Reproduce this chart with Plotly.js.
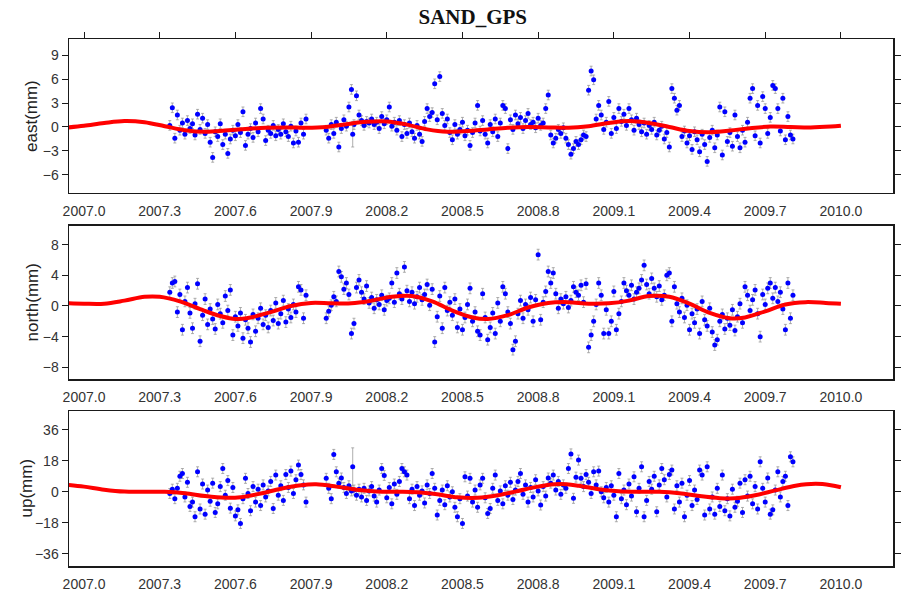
<!DOCTYPE html>
<html><head><meta charset="utf-8">
<script src="https://cdn.plot.ly/plotly-3.0.1.min.js"></script>
<style>html,body{margin:0;padding:0;background:#fff}#chart{width:919px;height:596px}</style>
</head><body><div id="chart"></div>
<script>
// ---- epochs (decimal year) ----
const datesA = [2007.34,2007.35,2007.36,2007.37,2007.38,2007.39,2007.40,2007.41,2007.42,2007.43,
 2007.44,2007.45,2007.46,2007.47,2007.48,2007.49,2007.50,2007.51,2007.52,2007.53,
 2007.54,2007.55,2007.56,2007.57,2007.58,2007.59,2007.60,2007.61,2007.62,2007.63,
 2007.64,2007.65,2007.66,2007.67,2007.68,2007.69,2007.70,2007.71,2007.72,2007.73,
 2007.74,2007.75,2007.76,2007.77,2007.78,2007.79,2007.80,2007.81,2007.82,2007.83,
 2007.84,2007.85,2007.86,2007.87,2007.88];
const datesB = [2007.96,2007.97,2007.98,2007.99,2008.00,2008.01,2008.02,2008.03,2008.04,2008.05,
 2008.06,2008.07,2008.08,2008.09,2008.10,2008.11,2008.12,2008.13,2008.14,2008.15,
 2008.16,2008.17,2008.18,2008.19,2008.20,2008.21,2008.22,2008.23,2008.24,2008.25,
 2008.26,2008.27,2008.28,2008.29,2008.30,2008.31,2008.32,2008.33,2008.34,2008.35,
 2008.36,2008.37,2008.38,2008.39,2008.40,2008.41,2008.42,2008.43,2008.44,2008.45,
 2008.46,2008.47,2008.48,2008.49,2008.50,2008.51,2008.52,2008.53,2008.54,2008.55,
 2008.56,2008.57,2008.58,2008.59,2008.60,2008.61,2008.62,2008.63,2008.64,2008.65,
 2008.66,2008.67,2008.68,2008.69,2008.70,2008.71,2008.72,2008.73,2008.74,2008.75,
 2008.76,2008.77,2008.78,2008.79,2008.80,2008.81,2008.82,2008.83,2008.84,2008.85,
 2008.86,2008.87,2008.88,2008.89,2008.90,2008.91,2008.92,2008.93,2008.94,2008.95,
 2008.96,2008.97,2008.98,2008.99,2009.00,2009.01,2009.02,2009.03,2009.04,2009.05,
 2009.06,2009.07,2009.08,2009.09,2009.10,2009.11,2009.12,2009.13,2009.14,2009.15,
 2009.16,2009.17,2009.18,2009.19,2009.20,2009.21,2009.22,2009.23,2009.24,2009.25,
 2009.26,2009.27,2009.28,2009.29,2009.30,2009.31,2009.32,2009.33,2009.34,2009.35,
 2009.36,2009.37,2009.38,2009.39,2009.40,2009.41,2009.42,2009.43,2009.44,2009.45,
 2009.46,2009.47,2009.48,2009.49,2009.50,2009.51,2009.52,2009.53,2009.54,2009.55,
 2009.56,2009.57,2009.58,2009.59,2009.60,2009.61,2009.62,2009.63,2009.64,2009.65,
 2009.66,2009.67,2009.68,2009.69,2009.70,2009.71,2009.72,2009.73,2009.74,2009.75,
 2009.76,2009.77,2009.78,2009.79,2009.80,2009.81];

// ---- east (mm) ----
const eastA = [0.2,2.4,-1.4,1.5,-0.4,0.5,-0.9,0.8,-0.2,0.4,
 -1.0,1.6,-0.3,1.1,-0.8,0.3,-1.9,-3.8,-0.6,-1.2,
 0.4,-2.2,-0.9,-3.3,-1.5,-0.4,-1.1,0.3,-0.7,1.9,
 -2.3,-0.9,-0.2,-1.3,0.5,-0.6,2.3,1.0,-1.7,-0.4,
 -0.8,0.2,-1.1,-0.3,-0.9,0.4,-0.6,-1.2,0.1,-2.0,
 -0.5,-1.9,0.5,-0.9,1.0];
const eastB = [-0.4,-1.4,0.3,-0.8,0.6,-2.5,-0.2,0.9,0.1,2.5,
 4.7,0.3,3.9,1.5,0.8,0.2,0.7,0.5,1.0,0.3,
 0.6,-0.2,1.3,0.4,0.9,2.5,0.1,0.6,-0.4,0.8,
 -1.2,0.3,-0.8,0.5,-0.6,-1.4,0.2,-0.9,-1.8,0.7,
 2.3,1.3,1.8,5.4,0.9,6.3,1.7,0.2,1.0,-0.7,
 -1.6,0.3,-0.9,-0.3,0.6,-1.1,-0.4,-2.3,-0.7,0.5,
 2.7,-0.5,0.8,-0.9,-2.0,0.3,-0.6,1.0,-1.2,0.5,
 2.7,2.3,-2.7,0.9,-0.3,1.5,0.4,1.2,-0.2,0.8,
 1.7,0.3,0.6,-0.1,1.1,0.2,0.5,2.3,4.0,-1.0,
 -2.0,-1.4,-0.3,-0.8,-0.1,-1.4,-2.2,-3.4,-2.7,-1.8,
 -2.2,-1.6,-1.0,-1.2,4.6,7.0,5.9,1.0,2.7,1.5,
 -0.3,0.6,3.2,-0.8,1.2,-0.2,2.3,0.7,1.6,0.2,
 2.3,0.9,-0.4,1.1,0.3,-0.6,0.5,-0.9,0.2,-0.3,
 0.6,-1.0,-0.4,0.1,-1.5,-0.7,-2.5,4.8,3.6,2.1,
 2.7,-1.2,-0.5,-2.0,-1.1,-2.8,-0.6,-1.6,-3.1,-0.9,
 -2.2,-4.3,-1.3,-0.4,-2.6,-1.0,2.5,-3.5,1.9,-1.8,
 -0.7,-2.4,1.5,-1.2,-2.6,-0.4,-1.9,0.6,3.6,4.8,
 -1.1,2.7,-2.0,3.8,2.3,-0.8,1.2,5.2,4.8,2.3,
 -0.5,3.6,-1.6,1.3,-1.0,-1.5];
const eastSigma = 0.6;
const eastWideX = [2008.065], eastWideY = [-0.9], eastWideErr = [1.6];
const eastFitX = [2006.94,2007.00,2007.08,2007.16,2007.24,2007.32,2007.40,2007.48,2007.56,2007.64,2007.72,2007.80,2007.88,2007.96,
 2008.04,2008.12,2008.20,2008.28,2008.36,2008.44,2008.52,2008.60,2008.68,2008.76,2008.84,2008.92,
 2009.00,2009.08,2009.16,2009.24,2009.32,2009.40,2009.48,2009.56,2009.64,2009.72,2009.80,2009.88,2009.96,2010.00];
const eastFitY = [-0.05,0.15,0.5,0.75,0.6,0.1,-0.4,-0.6,-0.45,-0.25,-0.1,-0.05,-0.1,0.0,
 0.35,0.65,0.7,0.3,-0.3,-0.6,-0.5,-0.3,-0.1,0.0,-0.05,-0.1,
 0.1,0.5,0.75,0.5,0.0,-0.5,-0.65,-0.45,-0.15,0.05,0.0,-0.05,0.05,0.15];

// ---- north (mm) ----
const northA = [1.8,3.0,3.2,-0.8,1.5,-3.1,0.6,2.4,-0.9,-2.9,
 0.3,2.9,-4.6,-1.2,0.9,-2.4,-0.4,-1.7,-3.0,0.2,
 -1.0,-2.2,1.3,-0.6,2.1,-3.8,-1.4,-2.6,-0.9,-4.2,
 -1.8,-2.9,-4.7,-1.1,-3.3,-1.6,-0.3,-2.4,-1.2,-2.8,
 -0.6,-1.9,0.4,-2.3,-1.0,0.7,-2.1,-0.4,-1.5,0.2,
 -0.8,2.5,2.1,-1.6,1.4];
const northB = [-1.6,-0.7,0.1,1.2,0.6,4.5,3.8,2.2,3.0,1.5,
 -3.6,-2.3,2.4,3.4,1.8,0.9,2.6,0.4,1.1,-0.3,
 0.8,0.2,1.4,-0.5,0.7,1.0,3.0,0.5,4.3,1.6,
 0.9,5.1,2.0,0.6,1.8,0.3,1.2,2.4,0.8,1.5,
 2.8,0.1,2.2,-4.7,-1.4,1.3,-2.9,2.4,-0.6,0.5,
 -1.2,0.9,-2.8,-0.4,-3.1,-1.5,0.2,2.3,-2.0,-0.8,
 -3.3,-3.8,1.6,-1.5,-4.4,-2.8,-0.9,-3.6,0.4,-2.0,
 2.5,1.6,-0.8,-2.3,-5.7,-4.6,-1.0,0.7,-1.6,0.2,
 -0.5,1.1,-2.0,0.8,6.7,-1.8,0.5,1.9,4.5,3.0,
 4.3,1.6,-0.3,0.9,0.3,1.2,-0.2,0.7,2.5,1.8,
 1.4,2.7,0.5,2.9,-5.4,-3.8,-2.0,0.2,3.0,1.4,
 -3.6,-0.5,-3.6,-2.0,1.9,-3.1,-1.0,0.6,3.0,2.0,
 1.4,2.7,0.9,1.8,2.3,3.4,5.3,2.8,1.6,3.6,
 2.3,1.2,2.6,0.8,1.4,4.0,4.3,-2.0,2.5,0.3,
 -0.8,1.0,-1.5,0.1,-3.1,-1.0,-2.2,-0.4,-3.6,0.6,
 -1.8,-2.6,-0.3,-3.4,-5.1,-4.4,-2.0,-1.1,-3.0,-1.6,
 -2.5,-0.5,-3.2,-1.4,0.3,-2.2,2.5,1.4,-0.6,0.8,
 2.1,-1.0,-4.0,1.5,0.2,2.3,3.0,1.0,2.4,0.6,
 1.8,-0.4,-3.1,3.0,-1.6,1.4];
const northSigma = 0.7;
const northFitX = [2006.94,2007.00,2007.08,2007.16,2007.24,2007.30,2007.38,2007.46,2007.54,2007.60,2007.66,2007.74,2007.82,2007.90,2007.98,
 2008.06,2008.14,2008.22,2008.30,2008.38,2008.46,2008.54,2008.60,2008.68,2008.76,2008.84,2008.92,
 2009.00,2009.08,2009.16,2009.24,2009.32,2009.40,2009.48,2009.56,2009.62,2009.70,2009.78,2009.86,2009.94,2010.00];
const northFitY = [0.35,0.3,0.3,0.7,1.2,1.2,0.6,-0.4,-1.3,-1.7,-1.5,-0.8,0.0,0.4,0.35,
 0.35,0.7,1.2,1.3,0.6,-0.6,-1.5,-1.7,-1.2,-0.2,0.4,0.5,
 0.3,0.35,0.7,1.3,1.2,0.3,-0.9,-1.6,-1.5,-0.7,0.2,0.5,0.4,0.3];

// ---- up (mm) ----
const upA = [-1.0,1.5,-4.0,2.0,9.0,10.6,-3.0,5.5,-8.5,-6.0,
 -14.5,11.6,-10.0,4.5,-13.0,1.0,-5.5,5.0,-12.0,-7.0,
 3.0,13.5,-2.0,6.5,-9.5,2.5,-14.0,-10.5,-18.4,-4.0,
 7.8,-1.0,-11.0,3.0,-6.0,1.5,-8.0,4.0,-3.0,0.5,
 6.0,-9.7,9.7,-2.0,3.5,-5.0,10.0,2.5,12.0,-1.0,
 7.0,15.5,10.0,4.0,-6.0];
const upB = [7.8,2.0,-4.0,21.7,11.6,5.0,8.0,2.5,-1.0,3.5,
 0.5,1.0,-2.0,1.5,-3.0,2.0,-5.0,0.5,3.0,-2.5,
 -6.0,1.0,13.5,9.5,-3.5,2.5,-7.0,4.5,-1.5,6.0,
 13.5,11.6,9.7,-4.0,1.5,-8.0,3.0,-2.0,0.5,-6.5,
 4.0,-1.0,10.6,2.0,-13.5,-5.0,1.0,-7.5,3.5,-3.0,
 0.0,-9.0,-14.5,-4.0,-18.4,8.7,-2.5,7.8,-6.0,1.0,
 -9.0,4.0,7.8,-3.5,-12.6,-9.7,2.0,9.7,-5.0,0.5,
 -7.0,3.5,-2.0,5.5,-4.5,1.0,6.0,10.6,-1.5,4.0,
 -6.0,2.5,-3.0,7.0,0.5,-7.7,3.0,-2.5,8.0,5.0,
 9.7,1.0,6.0,-1.5,4.0,2.0,13.5,22.0,-3.8,8.5,
 18.4,7.8,3.0,10.0,5.5,-1.0,11.6,4.0,12.0,0.0,
 -3.5,2.5,-6.0,3.5,-2.0,-14.5,10.6,-4.0,1.0,-7.5,
 4.5,-2.5,8.7,-11.6,2.0,14.5,-14.5,-5.0,6.0,1.5,
 9.0,-11.6,4.0,13.5,7.0,-3.0,10.0,12.6,-10.0,3.5,
 -6.0,5.0,-14.5,-2.0,6.5,-8.0,1.0,-4.5,12.6,9.7,
 -13.5,14.5,-10.0,-3.0,-13.0,2.0,-8.5,9.7,-11.0,-4.0,
 -14.0,1.5,-9.0,-5.5,5.0,-12.0,7.0,-2.5,9.0,-7.0,
 3.0,-10.0,17.4,2.0,-6.0,8.0,-13.0,-10.5,1.0,11.6,
 -3.0,6.0,9.0,-8.0,20.3,17.4];
const upSigma = 2.9;
const upWideX = [2008.065], upWideY = [14.5], upWideErr = [11];
const upFitX = [2006.94,2007.00,2007.08,2007.16,2007.24,2007.32,2007.40,2007.48,2007.56,2007.62,2007.70,2007.78,2007.86,2007.92,
 2008.00,2008.08,2008.16,2008.24,2008.32,2008.40,2008.48,2008.56,2008.64,2008.72,2008.80,2008.88,2008.96,
 2009.04,2009.12,2009.20,2009.28,2009.36,2009.44,2009.52,2009.58,2009.66,2009.74,2009.82,2009.90,2009.96,2010.00];
const upFitY = [4.0,3.0,1.2,0.1,0.0,0.0,-0.8,-2.5,-3.5,-3.2,-1.0,1.8,3.8,4.3,
 3.0,1.2,0.2,0.0,-0.3,-1.5,-3.2,-3.5,-2.0,0.5,3.0,4.5,3.5,
 1.5,0.3,0.0,0.0,-0.8,-2.5,-3.7,-3.8,-2.0,0.8,3.5,4.6,3.8,2.6];

// ---- axes labels ----
const xTickVals = [2007.0,2007.3,2007.6,2007.9,2008.2,2008.5,2008.8,2009.1,2009.4,2009.7,2010.0];
const xTickText = ['2007.0','2007.3','2007.6','2007.9','2008.2','2008.5','2008.8','2009.1','2009.4','2009.7','2010.0'];
const eastTicks = [-6,-3,0,3,6,9];
const northTicks = [-8,-4,0,4,8];
const upTicks = [-36,-18,0,18,36];
const panelTitles = ['east(mm)','north(mm)','up(mm)'];
const chartTitle = 'SAND_GPS';

const dates = datesA.concat(datesB);
const east = eastA.concat(eastB);
const north = northA.concat(northB);
const up = upA.concat(upB);

const BLUE = '#0000ff', ERR = 'rgba(150,150,150,0.85)', RED = '#ff0000';
function pts(x, y, sig, xa, ya, arr) {
  return {type:'scatter', mode:'markers', x:x, y:y, xaxis:xa, yaxis:ya,
    marker:{color:BLUE, size:5}, hoverinfo:'skip', showlegend:false,
    error_y: arr ? {type:'data', array:sig, visible:true, color:ERR, thickness:0.9, width:1.5}
                 : {type:'constant', value:sig, visible:true, color:ERR, thickness:0.9, width:1.5}};
}
function fit(x, y, xa, ya) {
  return {type:'scatter', mode:'lines', x:x, y:y, xaxis:xa, yaxis:ya,
    line:{color:RED, width:4, shape:'spline', smoothing:1}, hoverinfo:'skip', showlegend:false};
}
const data = [
  pts(dates, east, eastSigma, 'x', 'y'), pts(eastWideX, eastWideY, eastWideErr, 'x', 'y', true), fit(eastFitX, eastFitY, 'x', 'y'),
  pts(dates, north, northSigma, 'x2', 'y2'), fit(northFitX, northFitY, 'x2', 'y2'),
  pts(dates, up, upSigma, 'x3', 'y3'), pts(upWideX, upWideY, upWideErr, 'x3', 'y3', true), fit(upFitX, upFitY, 'x3', 'y3'),
  // invisible trace to host top tick axis
  {type:'scatter', mode:'markers', x:[xTickVals[0]], y:[0], xaxis:'x4', yaxis:'y', marker:{opacity:0}, hoverinfo:'skip', showlegend:false}
];

const FONT = 'Liberation Sans, Arial, Helvetica, sans-serif';
const XR = [2006.9405, 2010.2065];
function xax(anchor) {
  return {anchor:anchor, range:XR, tickvals:xTickVals, ticktext:xTickText, ticks:'outside', ticklen:5,
    tickcolor:'rgba(0,0,0,0)', showline:true, linecolor:'#1a1a1a', linewidth:1.5, mirror:true,
    showgrid:false, zeroline:false, tickfont:{family:FONT, size:14, color:'#333'}, fixedrange:true};
}
function yax(domain, range, ticks) {
  return {domain:domain, range:range, tickvals:ticks, ticks:'outside', ticklen:6, tickwidth:1, tickcolor:'#1a1a1a',
    mirror:'ticks', showline:true, linecolor:'#1a1a1a', linewidth:1.5, showgrid:false, zeroline:false,
    tickfont:{family:FONT, size:14, color:'#333'}, fixedrange:true};
}
const D1 = [0.7078, 1], D2 = [0.3548, 0.6452], D3 = [0, 0.2941];
function ytitle(text, domain, xpx) {
  return {text:text, textangle:-90, xref:'paper', yref:'paper', x:(xpx-69)/824, y:(domain[0]+domain[1])/2,
    xanchor:'center', yanchor:'middle', showarrow:false, font:{family:FONT, size:17, color:'#222'}};
}
const layout = {
  width:919, height:596, paper_bgcolor:'#fff', plot_bgcolor:'#fff',
  margin:{l:69, r:26, t:39, b:30},
  title:{text:chartTitle, font:{family:'Liberation Serif, Times New Roman, serif', size:21, color:'#111', weight:'bold'},
    x:0.49, xref:'paper', y:1-17/596, yref:'container', yanchor:'middle', xanchor:'center'},
  xaxis: xax('y'), xaxis2: xax('y2'), xaxis3: xax('y3'),
  xaxis4: {overlaying:'x', side:'top', anchor:'y', range:XR, tickvals:xTickVals, showticklabels:false,
    ticks:'outside', ticklen:6, tickcolor:'#1a1a1a', showline:false, showgrid:false, zeroline:false, fixedrange:true},
  yaxis: yax(D1, [-8.25, 11], eastTicks),
  yaxis2: yax(D2, [-9.53, 10.44], northTicks),
  yaxis3: yax(D3, [-43.1, 46.9], upTicks),
  annotations:[ytitle(panelTitles[0], D1, 32), ytitle(panelTitles[1], D2, 32), ytitle(panelTitles[2], D3, 27)],
  showlegend:false
};
Plotly.newPlot('chart', data, layout, {displayModeBar:false, staticPlot:true});
</script>
</body></html>
